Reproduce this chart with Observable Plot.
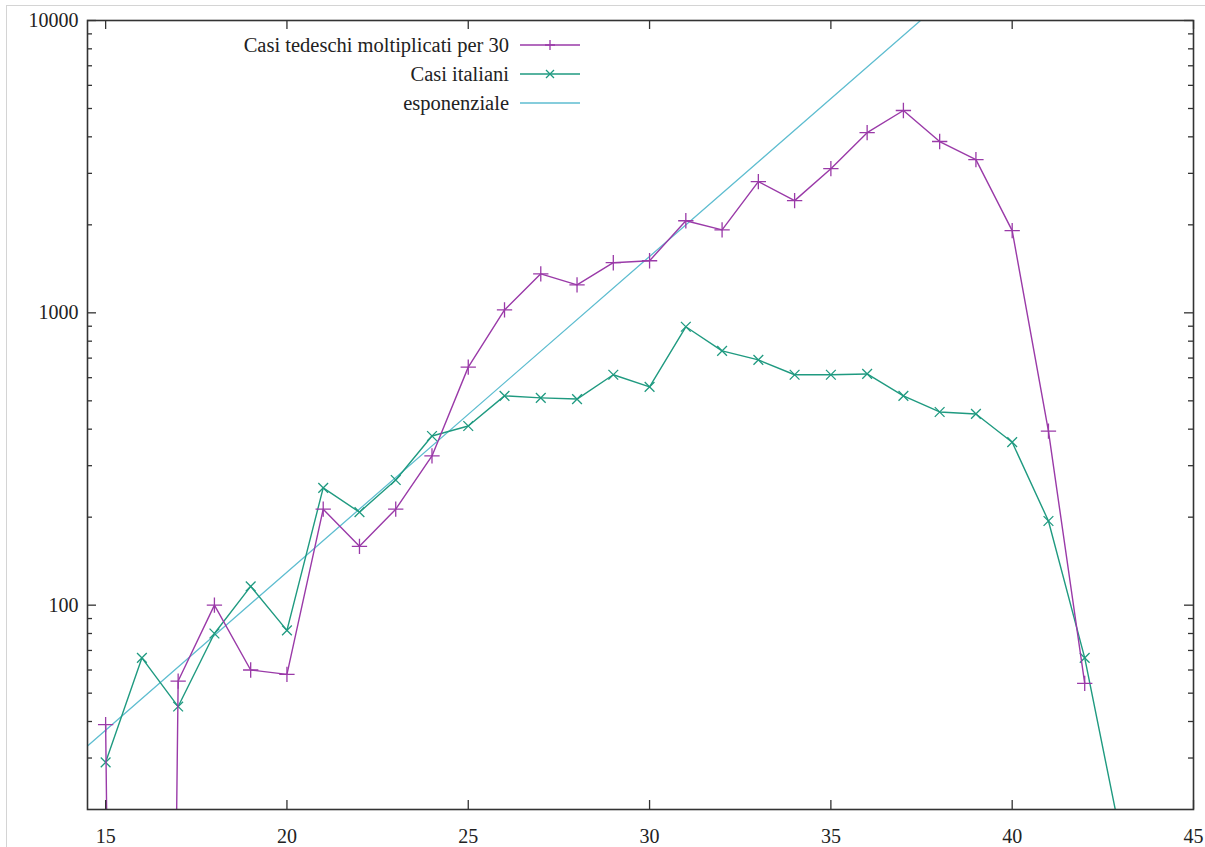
<!DOCTYPE html>
<html>
<head>
<meta charset="utf-8">
<script src="https://cdn.jsdelivr.net/npm/d3@7"></script>
<script src="https://cdn.jsdelivr.net/npm/@observablehq/plot@0.6"></script>
<style>
  html, body { margin: 0; padding: 0; background: #fff; }
  #wrap { position: relative; width: 1205px; height: 847px; overflow: hidden; }
  #border { position: absolute; left: 6px; top: 5px; right: 0; bottom: 0;
            border-left: 1.5px solid #d4d4d4; border-top: 1.5px solid #d4d4d4; }
  #legend { position: absolute; left: 0; top: 0; font-family: "Liberation Serif", "Times New Roman", "DejaVu Serif", serif;
            font-size: 20.5px; color: #222; }
  .row { position: absolute; display: flex; align-items: center; white-space: nowrap; }
  .row span { text-align: right; }
  svg text { font-family: "Liberation Serif", "Times New Roman", "DejaVu Serif", serif !important; }
</style>
</head>
<body>
<div id="wrap">
  <div id="border"></div>
  <div id="chart"></div>
  <div id="legend"></div>
</div>
<script>
// Days (x axis)
const days = [15,16,17,18,19,20,21,22,23,24,25,26,27,28,29,30,31,32,33,34,35,36,37,38,39,40,41,42,43];
// German cases multiplied by 30 (0 = no cases; drawn toward -infinity on log scale)
const german = [39,0,55,100,60,58,213,159,213,324,652,1023,1360,1247,1484,1507,2065,1923,2812,2420,3113,4132,4921,3855,3343,1910,394,54,null];
// Italian cases
const italian = [29,66,45,80,116,82,252,208,268,379,410,520,512,507,614,558,896,741,690,614,614,618,520,458,451,361,194,66,16];
// Exponential reference line (straight on log scale): endpoints
const expDays = [14.5, 38];
const expValues = [33, 11400];

const seriesNames = ["Casi tedeschi moltiplicati per 30", "Casi italiani", "esponenziale"];
const seriesColors = ["#9a3aa8", "#1f9a80", "#5ebdd0"];

const xTicks = [15,20,25,30,35,40,45];
const yMajor = [100,1000,10000];
const yMinor = [30,40,50,60,70,80,90,200,300,400,500,600,700,800,900,2000,3000,4000,5000,6000,7000,8000,9000];

const FLOOR = 1e-9; // stand-in for zero on the log scale
const germanData = days.map((d,i)=>({x:d, y: german[i]})).filter(d=>d.y!==null).map(d=>({x:d.x, y: Math.max(d.y, FLOOR), zero: d.y===0}));
const italianData = days.map((d,i)=>({x:d, y: italian[i]}));
const expData = expDays.map((d,i)=>({x:d, y: expValues[i]}));

const W = 1205, H = 847;
const mL = 87, mT = 20, mR = 12, mB = 38;
const fw = W - mL - mR, fh = H - mT - mB;
const major = 9, minor = 5;
const FONT = '"Liberation Serif", "Times New Roman", "DejaVu Serif", serif';

const chart = Plot.plot({
  width: W, height: H,
  marginLeft: mL, marginTop: mT, marginRight: mR, marginBottom: mB,
  style: {fontFamily: FONT, fontSize: "20px", color: "#222", background: "transparent"},
  x: {domain: [14.5, 45], label: null},
  y: {type: "log", domain: [20, 10000], label: null},
  marks: [
    Plot.line(expData, {x:"x", y:"y", stroke: seriesColors[2], strokeWidth: 1.3, clip: true}),
    Plot.line(italianData, {x:"x", y:"y", stroke: seriesColors[1], strokeWidth: 1.4, clip: true}),
    Plot.dot(italianData, {x:"x", y:"y", symbol: "times", r: 4.5, stroke: seriesColors[1], strokeWidth: 1.3, clip: true}),
    Plot.line(germanData, {x:"x", y:"y", stroke: seriesColors[0], strokeWidth: 1.4, clip: true}),
    Plot.dot(germanData.filter(d=>!d.zero), {x:"x", y:"y", symbol: "plus", r: 5, stroke: seriesColors[0], strokeWidth: 1.3, clip: true}),
    Plot.frame({stroke: "#333", strokeWidth: 1.6}),
    Plot.ruleX(xTicks, {x: d=>d, insetTop: fh - major, stroke: "#333", strokeWidth: 1.3}),
    Plot.ruleX(xTicks, {x: d=>d, insetBottom: fh - major, stroke: "#333", strokeWidth: 1.3}),
    Plot.ruleY(yMajor, {y: d=>d, insetRight: fw - major, stroke: "#333", strokeWidth: 1.3}),
    Plot.ruleY(yMinor, {y: d=>d, insetRight: fw - minor, stroke: "#333", strokeWidth: 1.3}),
    Plot.ruleY(yMajor, {y: d=>d, insetLeft: fw - major, stroke: "#333", strokeWidth: 1.3}),
    Plot.ruleY(yMinor, {y: d=>d, insetLeft: fw - minor, stroke: "#333", strokeWidth: 1.3}),
    Plot.axisX({ticks: xTicks, tickSize: 0, tickPadding: 19, tickFormat: d=>String(d), fill: "#222", fontFamily: FONT}),
    Plot.axisY({ticks: yMajor, tickSize: 0, tickPadding: 9, tickFormat: d=>String(d), fill: "#222", fontFamily: FONT})
  ]
});
document.getElementById("chart").appendChild(chart);

const legend = document.getElementById("legend");
const rowY = [45, 74, 103];
seriesNames.forEach((name, i) => {
  const row = document.createElement("div");
  row.className = "row";
  row.style.left = "0px";
  row.style.top = (rowY[i] - 12) + "px";
  row.style.height = "24px";
  const sym = i === 0 ? `<path d="M30,-5V5M25,0H35" />` : i === 1 ? `<path d="M26,-4L34,4M26,4L34,-4" />` : "";
  row.innerHTML = `<span style="width:509px;display:inline-block">${name}</span>` +
    `<svg width="72" height="24" viewBox="-11 -12 72 24">` +
    `<g stroke="${seriesColors[i]}" stroke-width="1.3" fill="none"><line x1="0" x2="60" y1="0" y2="0"/>${sym}</g></svg>`;
  legend.appendChild(row);
});
</script>
</body>
</html>
